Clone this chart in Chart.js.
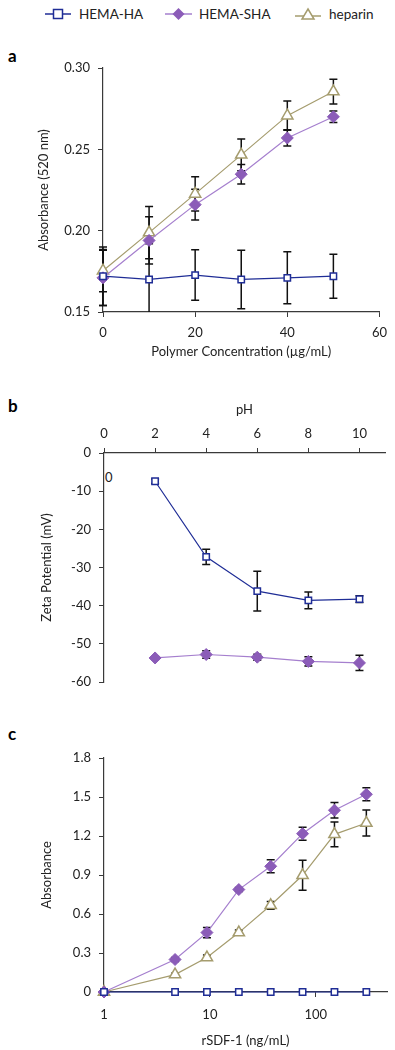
<!DOCTYPE html>
<html>
<head>
<meta charset="utf-8">
<script src="https://cdn.jsdelivr.net/npm/chart.js@4.4.1/dist/chart.umd.min.js"></script>
<style>
  body { margin: 0; background: #fff; font-family: Lato, "Liberation Sans", sans-serif; }
  #page { position: relative; width: 395px; height: 1050px; overflow: hidden; }
  canvas { position: absolute; left: 0; }
  .lbl { position: absolute; font-weight: bold; font-size: 17px; color: #000; }
  .leg { position: absolute; top: 5px; font-size: 13.5px; color: #222; line-height: 18px; }
  .leg svg { position: absolute; left: -34px; top: 2px; }
</style>
</head>
<body>
<div id="page">
  <div class="leg" style="left:79px"><svg width="28" height="14"><line x1="0" y1="7" x2="26" y2="7" stroke="#1f2d96" stroke-width="1.5"/><rect x="8.5" y="2.5" width="9" height="9" fill="#fff" stroke="#1f2d96" stroke-width="1.5"/></svg>HEMA-HA</div>
  <div class="leg" style="left:199px"><svg width="28" height="14"><line x1="0" y1="7" x2="27" y2="7" stroke="#a57fce" stroke-width="1.5"/><polygon points="13.5,1 19.5,7 13.5,13 7.5,7" fill="#8b5cb8"/></svg>HEMA-SHA</div>
  <div class="leg" style="left:329px"><svg width="28" height="14"><line x1="0" y1="9" x2="26" y2="9" stroke="#a59c6e" stroke-width="1.5"/><polygon points="13,2 19,12 7,12" fill="#fff" stroke="#a59c6e" stroke-width="1.5"/></svg>heparin</div>

  <div class="lbl" style="left:8px; top:45px">a</div>
  <div class="lbl" style="left:8px; top:395px">b</div>
  <div class="lbl" style="left:8px; top:723px">c</div>
  <div style="position:absolute; left:105px; top:469px; font-size:13px; color:#222">0</div>

  <canvas id="chartA" width="395" height="330" style="top:40px"></canvas>
  <canvas id="chartB" width="395" height="305" style="top:395px"></canvas>
  <canvas id="chartC" width="395" height="315" style="top:735px"></canvas>
</div>
<script>
// ---- data: panel a (absorbance vs polymer concentration)
const polymerConc = [0, 10, 20, 30, 40, 50];
const aHA      = [0.172, 0.170, 0.1727, 0.170, 0.171, 0.172];
const aHAErr   = [0.018, 0.022, 0.0155, 0.018, 0.016, 0.0135];
const aSHA     = [0.171, 0.194, 0.216, 0.2347, 0.257, 0.270];
const aSHAErr  = [0.017, 0.0145, 0.0095, 0.006, 0.005, 0.0035];
const aHep     = [0.1754, 0.1988, 0.2226, 0.2466, 0.2707, 0.2855];
const aHepErr  = [0.013, 0.016, 0.0105, 0.0098, 0.009, 0.0076];

// ---- data: panel b (zeta potential vs pH)
const pH       = [2, 4, 6, 8, 10];
const bHA      = [-7.4, -27.2, -36.2, -38.6, -38.3];
const bHAErr   = [0.6, 2.0, 5.2, 2.2, 0.9];
const bSHA     = [-53.7, -52.8, -53.5, -54.6, -55.0];
const bSHAErr  = [0.4, 1.0, 0.8, 1.2, 2.0];

// ---- data: panel c (absorbance vs rSDF-1)
const sdfConc  = [1, 4.6875, 9.375, 18.75, 37.5, 75, 150, 300];
const cHA      = [0, 0, 0, 0, 0, 0, 0, 0];
const cSHA     = [0, 0.25, 0.457, 0.788, 0.967, 1.218, 1.398, 1.521];
const cSHAErr  = [0, 0.015, 0.04, 0.015, 0.05, 0.05, 0.06, 0.05];
const cHep     = [0, 0.134, 0.265, 0.457, 0.667, 0.898, 1.213, 1.30];
const cHepErr  = [0, 0.01, 0.02, 0.02, 0.03, 0.115, 0.095, 0.1];

const FONT = 'Lato, "Liberation Sans", sans-serif';
const AXIS = '#3a3a3a';
const TXT = '#222';
const HA_C = '#1f2d96', SHA_C = '#8b5cb8', SHA_L = '#a57fce', HEP_C = '#a59c6e';

Chart.defaults.font.family = FONT;
Chart.defaults.font.size = 13;
Chart.defaults.color = TXT;

// draws the vertical error bars with caps, under the markers
const errorBars = {
  id: 'errorBars',
  beforeDatasetsDraw(chart) {
    const ctx = chart.ctx, area = chart.chartArea, ys = chart.scales.y;
    ctx.save();
    ctx.beginPath();
    ctx.rect(area.left - 10, area.top, area.right - area.left + 20, area.bottom - area.top);
    ctx.clip();
    ctx.strokeStyle = '#111';
    ctx.lineWidth = 1.5;
    chart.data.datasets.forEach((ds, i) => {
      if (!ds.errors) return;
      const meta = chart.getDatasetMeta(i);
      meta.data.forEach((pt, j) => {
        const e = ds.errors[j];
        if (!e) return;
        const raw = ds.data[j];
        const v = typeof raw === 'object' ? raw.y : raw;
        const t = ys.getPixelForValue(v + e), b = ys.getPixelForValue(v - e);
        const x = pt.x;
        ctx.beginPath();
        ctx.moveTo(x, t); ctx.lineTo(x, b);
        ctx.moveTo(x - 4, t); ctx.lineTo(x + 4, t);
        ctx.moveTo(x - 4, b); ctx.lineTo(x + 4, b);
        ctx.stroke();
      });
    });
    ctx.restore();
  }
};

function haSet(data, errors) {
  return { label: 'HEMA-HA', data, errors, borderColor: HA_C, borderWidth: 1.2,
    pointStyle: 'rect', pointRadius: 4.5, pointBackgroundColor: '#fff',
    pointBorderColor: HA_C, pointBorderWidth: 1.5, clip: false };
}
function shaSet(data, errors) {
  return { label: 'HEMA-SHA', data, errors, borderColor: SHA_L, borderWidth: 1.2,
    pointStyle: 'rectRot', pointRadius: 6, pointBackgroundColor: SHA_C,
    pointBorderColor: SHA_C, pointBorderWidth: 1, clip: false };
}
function hepSet(data, errors) {
  return { label: 'heparin', data, errors, borderColor: HEP_C, borderWidth: 1.2,
    pointStyle: 'triangle', pointRadius: 6.5, pointBackgroundColor: '#fff',
    pointBorderColor: HEP_C, pointBorderWidth: 1.5, clip: false };
}

function axisGrid() {
  return { drawOnChartArea: false, drawTicks: true, tickLength: 5, color: AXIS, lineWidth: 1 };
}
const border = { display: true, color: AXIS, width: 1.2 };

const common = {
  responsive: false,
  animation: false,
  devicePixelRatio: 1,
  plugins: { legend: { display: false }, tooltip: { enabled: false } },
  elements: { line: { tension: 0 } }
};

// ---- a
new Chart(document.getElementById('chartA'), {
  type: 'line',
  data: {
    datasets: [
      haSet(polymerConc.map((x, i) => ({ x, y: aHA[i] })), aHAErr),
      shaSet(polymerConc.map((x, i) => ({ x, y: aSHA[i] })), aSHAErr),
      hepSet(polymerConc.map((x, i) => ({ x, y: aHep[i] })), aHepErr)
    ]
  },
  options: {
    ...common,
    layout: { padding: { top: 28, right: 15, left: 0, bottom: 0 } },
    scales: {
      x: {
        type: 'linear', min: 0, max: 60,
        ticks: { stepSize: 20, padding: 8 },
        grid: axisGrid(), border,
        title: { display: true, text: 'Polymer Concentration (µg/mL)', padding: { top: 0, bottom: 10 } },
        afterFit(s) { s.height = 58; }
      },
      y: {
        min: 0.15, max: 0.30,
        ticks: { stepSize: 0.05, padding: 8, callback: v => v.toFixed(2) },
        grid: axisGrid(), border,
        title: { display: true, text: 'Absorbance (520 nm)', padding: { top: 36, bottom: 0 } },
        afterFit(s) { s.width = 103; }
      }
    }
  },
  plugins: [errorBars]
});

// ---- b
new Chart(document.getElementById('chartB'), {
  type: 'line',
  data: {
    datasets: [
      haSet(pH.map((x, i) => ({ x, y: bHA[i] })), bHAErr),
      shaSet(pH.map((x, i) => ({ x, y: bSHA[i] })), bSHAErr)
    ]
  },
  options: {
    ...common,
    layout: { padding: { top: 0, right: 10, left: 0, bottom: 18 } },
    scales: {
      x: {
        type: 'linear', position: 'top', min: 0, max: 11,
        afterBuildTicks(s) { s.ticks = [0, 2, 4, 6, 8, 10].map(value => ({ value })); },
        ticks: { padding: 6 },
        grid: axisGrid(), border,
        title: { display: true, text: 'pH', padding: { top: 7, bottom: 0 } },
        afterFit(s) { s.height = 58; }
      },
      y: {
        min: -60, max: 0,
        ticks: { stepSize: 10, padding: 8 },
        grid: axisGrid(), border,
        title: { display: true, text: 'Zeta Potential (mV)', padding: { top: 39, bottom: 0 } },
        afterFit(s) { s.width = 104; }
      }
    }
  },
  plugins: [errorBars]
});

// ---- c
new Chart(document.getElementById('chartC'), {
  type: 'line',
  data: {
    datasets: [
      haSet(sdfConc.map((x, i) => ({ x, y: cHA[i] })), null),
      shaSet(sdfConc.map((x, i) => ({ x, y: cSHA[i] })), cSHAErr),
      hepSet(sdfConc.map((x, i) => ({ x, y: cHep[i] })), cHepErr)
    ]
  },
  options: {
    ...common,
    layout: { padding: { top: 23, right: 5, left: 0, bottom: 0 } },
    scales: {
      x: {
        type: 'logarithmic', min: 1, max: 470,
        afterBuildTicks(s) { s.ticks = [1, 10, 100].map(value => ({ value })); },
        ticks: { padding: 10, callback: v => String(v) },
        grid: axisGrid(), border,
        title: { display: true, text: 'rSDF-1 (ng/mL)', padding: { top: 0, bottom: 1 } },
        afterFit(s) { s.height = 58; }
      },
      y: {
        min: 0, max: 1.8,
        ticks: { stepSize: 0.3, padding: 8, callback: v => v === 0 ? '0' : v.toFixed(1) },
        grid: axisGrid(), border,
        title: { display: true, text: 'Absorbance', padding: { top: 39, bottom: 0 } },
        afterFit(s) { s.width = 104; }
      }
    }
  },
  plugins: [errorBars]
});
</script>
</body>
</html>
